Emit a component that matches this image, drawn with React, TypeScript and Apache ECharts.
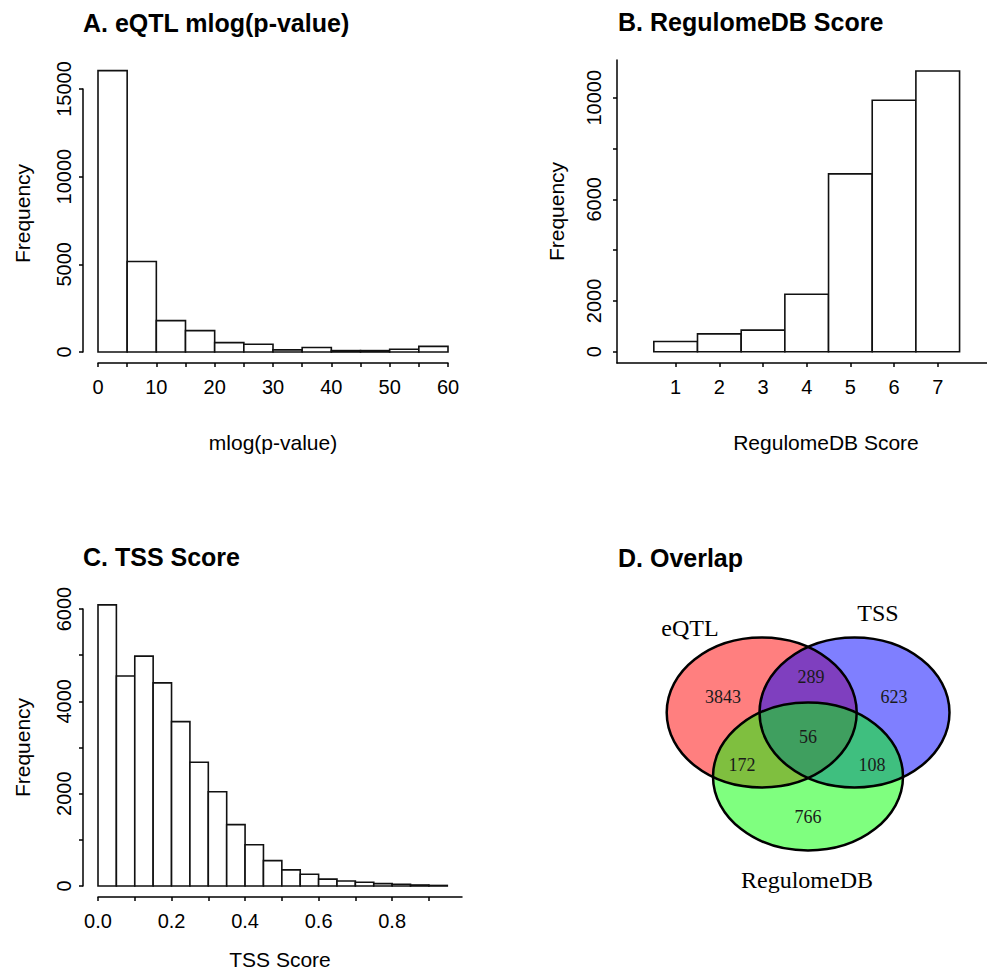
import React, { useEffect, useRef } from "react";
import * as echarts from "echarts";

// ---- Panel A: eQTL mlog(p-value) histogram ----
const aBreaks = [0, 5, 10, 15, 20, 25, 30, 35, 40, 45, 50, 55, 60];
const aCounts = [16050, 5160, 1790, 1220, 535, 445, 120, 255, 80, 80, 155, 320];
const aXLabels = [0, 10, 20, 30, 40, 50, 60];
const aYTicks = [0, 5000, 10000, 15000];

// ---- Panel B: RegulomeDB score ----
const bScores = [1, 2, 3, 4, 5, 6, 7];
const bCounts = [400, 700, 850, 2260, 7000, 9900, 11050];
const bYTicks = [0, 2000, 4000, 6000, 8000, 10000];
const bYLabels = [0, 2000, 6000, 10000];

// ---- Panel C: TSS score histogram ----
const cBreaks = [0, 0.05, 0.1, 0.15, 0.2, 0.25, 0.3, 0.35, 0.4, 0.45, 0.5, 0.55, 0.6, 0.65, 0.7, 0.75, 0.8, 0.85, 0.9, 0.95];
const cCounts = [6090, 4550, 4980, 4400, 3560, 2680, 2040, 1330, 895, 550, 350, 255, 150, 108, 80, 52, 37, 22, 12];
const cXTicks = [0, 0.1, 0.2, 0.3, 0.4, 0.5, 0.6, 0.7, 0.8, 0.9];
const cXLabels = [0, 0.2, 0.4, 0.6, 0.8];
const cYTicks = [0, 1000, 2000, 3000, 4000, 5000, 6000];
const cYLabels = [0, 2000, 4000, 6000];

// ---- Panel D: Venn overlap ----
const vennSets = ["eQTL", "TSS", "RegulomeDB"];
const vennRegions = ["eQTL", "eQTL∩TSS", "TSS", "eQTL∩RegulomeDB", "all", "TSS∩RegulomeDB", "RegulomeDB"];
const vennCounts = [3843, 289, 623, 172, 56, 108, 766];

const titles = ["A. eQTL mlog(p-value)", "B. RegulomeDB Score", "C. TSS Score", "D. Overlap"];

const SANS = "'Liberation Sans', Arial, sans-serif";
const SERIF = "'Liberation Serif', 'Times New Roman', serif";

const axisLineStyle = { show: true, onZero: false, lineStyle: { color: "#000", width: 1.5 } };
const tickStyle = (vals: number[]) => ({ show: true, length: 4, lineStyle: { color: "#000", width: 1.5 }, customValues: vals });
const plain = (v: number) => String(v);

const histRender = (params: any, api: any) => {
  const x0 = api.value(0);
  const x1 = api.value(1);
  const h = api.value(2);
  const p0 = api.coord([x0, 0]);
  const p1 = api.coord([x1, h]);
  return {
    type: "rect",
    shape: { x: p0[0], y: p1[1], width: p1[0] - p0[0], height: p0[1] - p1[1] },
    style: { fill: "#fff", stroke: "#111", lineWidth: 1.6 },
  };
};

export default function App() {
  const ref = useRef<HTMLDivElement>(null);
  useEffect(() => {
    document.body.style.margin = "0";
    const chart = echarts.init(ref.current!, null, { renderer: "svg" });

    // Venn layout (pixel geometry of the diagram)
    const ell = [
      { cx: 761.7, cy: 712.5, rx: 95, ry: 75, fill: "rgba(255,0,0,0.5)" },
      { cx: 854.5, cy: 712.5, rx: 95, ry: 75, fill: "rgba(0,0,255,0.5)" },
      { cx: 808, cy: 776.5, rx: 95, ry: 74, fill: "rgba(0,255,0,0.5)" },
    ];
    const regionPos = [
      [723, 697], [811, 677], [894, 697], [742, 765], [808, 737], [872, 765], [808, 817],
    ];
    const setPos = [[690, 628], [878, 613], [807, 880]];

    const venn: any[] = [];
    ell.forEach((e) =>
      venn.push({ type: "ellipse", shape: { cx: e.cx, cy: e.cy, rx: e.rx, ry: e.ry }, style: { fill: e.fill }, z: 1 })
    );
    ell.forEach((e) =>
      venn.push({ type: "ellipse", shape: { cx: e.cx, cy: e.cy, rx: e.rx, ry: e.ry }, style: { fill: "none", stroke: "#000", lineWidth: 2.5 }, z: 2 })
    );
    vennCounts.forEach((c, i) =>
      venn.push({
        type: "text", x: regionPos[i][0], y: regionPos[i][1], z: 3,
        style: { text: String(c), fontFamily: SERIF, fontSize: 18, fill: "#1a1a1a", align: "center", verticalAlign: "middle" },
        name: vennRegions[i],
      })
    );
    vennSets.forEach((s, i) =>
      venn.push({
        type: "text", x: setPos[i][0], y: setPos[i][1], z: 3,
        style: { text: s, fontFamily: SERIF, fontSize: 24, fill: "#000", align: "center", verticalAlign: "middle" },
      })
    );

    const titlePos = [[83, 23], [618, 22], [83, 557], [618, 558]];

    const option: any = {
      animation: false,
      backgroundColor: "#fff",
      title: titles.map((t, i) => ({
        text: t, left: titlePos[i][0], top: titlePos[i][1] - 13, padding: 0,
        textStyle: { fontFamily: SANS, fontWeight: "bold", fontSize: 25, color: "#000" },
      })),
      grid: [
        { left: 98, right: 539, top: 89, bottom: 621, outerBoundsMode: "none" },
        { left: 617, right: 0, top: 60, bottom: 610, outerBoundsMode: "none" },
        { left: 98, right: 525, top: 609, bottom: 87, outerBoundsMode: "none" },
      ],
      xAxis: [
        {
          gridIndex: 0, type: "value", min: 0, max: 60, offset: 11,
          axisLine: axisLineStyle, axisTick: tickStyle(aBreaks), splitLine: { show: false },
          axisLabel: { customValues: aXLabels, formatter: plain, fontFamily: SANS, fontSize: 20, color: "#000", margin: 14 },
          name: "mlog(p-value)", nameLocation: "middle", nameGap: 69,
          nameTextStyle: { fontFamily: SANS, fontSize: 21, color: "#000" },
        },
        {
          gridIndex: 1, type: "value", min: -0.343, max: 8.128,
          axisLine: axisLineStyle, axisTick: tickStyle(bScores), splitLine: { show: false },
          axisLabel: { customValues: bScores, formatter: plain, fontFamily: SANS, fontSize: 20, color: "#000", margin: 14 },
          name: "RegulomeDB Score", nameLocation: "middle", nameGap: 69,
          nameTextStyle: { fontFamily: SANS, fontSize: 21, color: "#000", padding: [0, 0, 0, 48] },
        },
        {
          gridIndex: 2, type: "value", min: 0, max: 0.99, offset: 11,
          axisLine: axisLineStyle, axisTick: tickStyle(cXTicks), splitLine: { show: false },
          axisLabel: { customValues: cXLabels, formatter: (v: number) => v.toFixed(1), fontFamily: SANS, fontSize: 20, color: "#000", margin: 14 },
          name: "TSS Score", nameLocation: "middle", nameGap: 52,
          nameTextStyle: { fontFamily: SANS, fontSize: 21, color: "#000" },
        },
      ],
      yAxis: [
        {
          gridIndex: 0, type: "value", min: 0, max: 15000, offset: 15,
          axisLine: axisLineStyle, axisTick: tickStyle(aYTicks), splitLine: { show: false },
          axisLabel: { customValues: aYTicks, formatter: plain, rotate: 90, fontFamily: SANS, fontSize: 20, color: "#000", margin: 9 },
          name: "Frequency", nameLocation: "middle", nameGap: 50,
          nameTextStyle: { fontFamily: SANS, fontSize: 21, color: "#000", padding: [0, 0, 0, 14] },
        },
        {
          gridIndex: 1, type: "value", min: -445, max: 11484,
          axisLine: axisLineStyle, axisTick: tickStyle(bYTicks), splitLine: { show: false },
          axisLabel: { customValues: bYLabels, formatter: plain, rotate: 90, fontFamily: SANS, fontSize: 20, color: "#000", margin: 13 },
          name: "Frequency", nameLocation: "middle", nameGap: 50,
          nameTextStyle: { fontFamily: SANS, fontSize: 21, color: "#000" },
        },
        {
          gridIndex: 2, type: "value", min: 0, max: 6000, offset: 15,
          axisLine: axisLineStyle, axisTick: tickStyle(cYTicks), splitLine: { show: false },
          axisLabel: { customValues: cYLabels, formatter: plain, rotate: 90, fontFamily: SANS, fontSize: 20, color: "#000", margin: 9 },
          name: "Frequency", nameLocation: "middle", nameGap: 50,
          nameTextStyle: { fontFamily: SANS, fontSize: 21, color: "#000" },
        },
      ],
      series: [
        {
          type: "custom", name: "eQTL", xAxisIndex: 0, yAxisIndex: 0, clip: false,
          renderItem: histRender, encode: { x: [0, 1], y: 2 },
          data: aCounts.map((c, i) => [aBreaks[i], aBreaks[i + 1], c]),
        },
        {
          type: "custom", name: "RegulomeDB", xAxisIndex: 1, yAxisIndex: 1, clip: false,
          renderItem: histRender, encode: { x: [0, 1], y: 2 },
          data: bCounts.map((c, i) => [bScores[i] - 0.5, bScores[i] + 0.5, c]),
        },
        {
          type: "custom", name: "TSS", xAxisIndex: 2, yAxisIndex: 2, clip: false,
          renderItem: histRender, encode: { x: [0, 1], y: 2 },
          data: cCounts.map((c, i) => [cBreaks[i], cBreaks[i + 1], c]),
        },
      ],
      graphic: venn,
    };
    chart.setOption(option);
    return () => chart.dispose();
  }, []);
  return <div ref={ref} style={{ width: 987, height: 973 }} />;
}
